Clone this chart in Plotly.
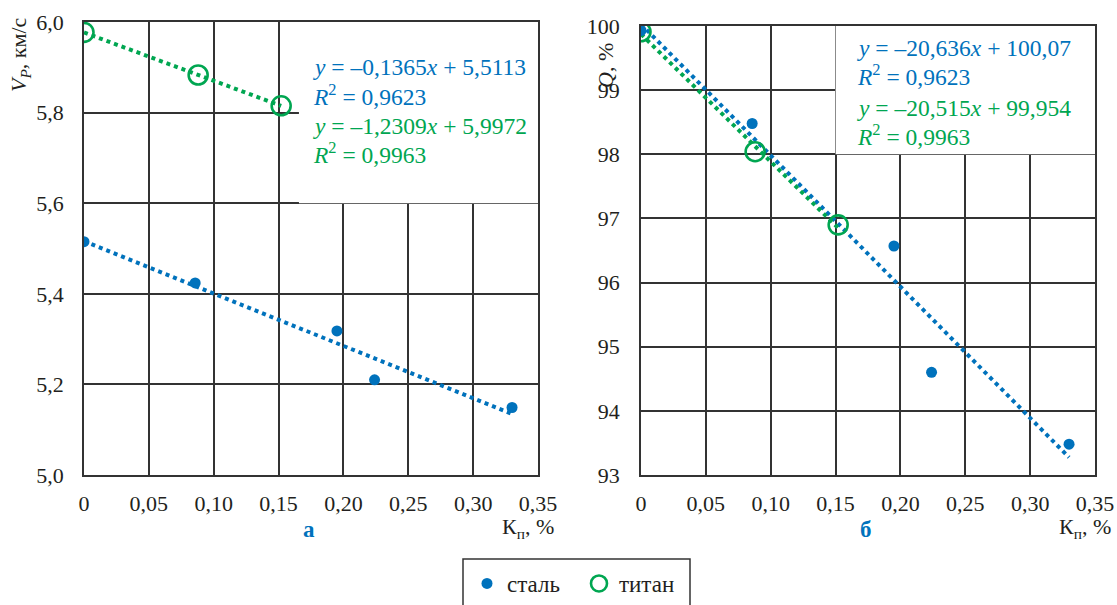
import numpy as np
import plotly.graph_objects as go

# ---------------- data ----------------
steel_kp = [0.0, 0.0857, 0.195, 0.224, 0.330]
steel_vp = [5.515, 5.424, 5.318, 5.210, 5.149]
steel_q = [99.93, 98.48, 96.57, 94.60, 93.48]

titan_kp = [0.0, 0.088, 0.152]
titan_vp = [5.977, 5.883, 5.815]
titan_q = [99.91, 98.04, 96.90]

x_tick_vals = [0.0, 0.05, 0.10, 0.15, 0.20, 0.25, 0.30, 0.35]
x_tick_text = ["0", "0,05", "0,10", "0,15", "0,20", "0,25", "0,30", "0,35"]
vp_tick_vals = [5.0, 5.2, 5.4, 5.6, 5.8, 6.0]
vp_tick_text = ["5,0", "5,2", "5,4", "5,6", "5,8", "6,0"]
q_tick_vals = [93, 94, 95, 96, 97, 98, 99, 100]
q_tick_text = ["93", "94", "95", "96", "97", "98", "99", "100"]

eq_vp = [
    "<i>y</i> = –0,1365<i>x</i> + 5,5113",
    "<i>R</i><sup>2</sup> = 0,9623",
    "<i>y</i> = –1,2309<i>x</i> + 5,9972",
    "<i>R</i><sup>2</sup> = 0,9963",
]
eq_q = [
    "<i>y</i> = –20,636<i>x</i> + 100,07",
    "<i>R</i><sup>2</sup> = 0,9623",
    "<i>y</i> = –20,515<i>x</i> + 99,954",
    "<i>R</i><sup>2</sup> = 0,9963",
]
series_names = ["сталь", "титан"]

# ---------------- style ----------------
BLUE = "#0072BC"
GREEN = "#00A651"
GRID = "#333333"
TXT = "#231f20"
FONT = "Liberation Serif"

W, H = 1117, 605


def px_x(p):
    return p / W


def px_y(p):
    return 1 - p / H


def trend(xs, ys):
    k, b = np.polyfit(xs, ys, 1)
    xx = np.array([min(xs), max(xs)])
    return xx, k * xx + b


fig = go.Figure()

# trendlines
for xs, ys, col, xa, ya in [
    (steel_kp, steel_vp, BLUE, "x", "y"),
    (titan_kp, titan_vp, GREEN, "x", "y"),
    (steel_kp, steel_q, BLUE, "x2", "y2"),
    (titan_kp, titan_q, GREEN, "x2", "y2"),
]:
    tx, ty = trend(xs, ys)
    fig.add_trace(go.Scatter(
        x=tx, y=ty, mode="lines", xaxis=xa, yaxis=ya, showlegend=False,
        line=dict(color=col, width=4, dash="4px,4px"), hoverinfo="skip"))

# markers
fig.add_trace(go.Scatter(
    x=steel_kp, y=steel_vp, mode="markers", name=series_names[0],
    marker=dict(color=BLUE, size=11), xaxis="x", yaxis="y", legendgroup="s"))
fig.add_trace(go.Scatter(
    x=titan_kp, y=titan_vp, mode="markers", name=series_names[1],
    marker=dict(symbol="circle-open", color=GREEN, size=19, line=dict(width=2.6)),
    xaxis="x", yaxis="y", legendgroup="t"))
fig.add_trace(go.Scatter(
    x=steel_kp, y=steel_q, mode="markers", name=series_names[0], showlegend=False,
    marker=dict(color=BLUE, size=11), xaxis="x2", yaxis="y2", legendgroup="s"))
fig.add_trace(go.Scatter(
    x=titan_kp, y=titan_q, mode="markers", name=series_names[1], showlegend=False,
    marker=dict(symbol="circle-open", color=GREEN, size=19, line=dict(width=2.6)),
    xaxis="x2", yaxis="y2", legendgroup="t"))

axis_common = dict(
    showgrid=True, gridcolor=GRID, gridwidth=1.5,
    showline=True, linecolor=GRID, linewidth=1.5, mirror=True,
    zeroline=False, ticks="", tickmode="array",
    tickfont=dict(family=FONT, size=22, color=TXT),
)

fig.update_layout(
    width=W, height=H,
    margin=dict(l=0, r=0, t=0, b=0, autoexpand=False),
    paper_bgcolor="white", plot_bgcolor="white",
    font=dict(family=FONT, size=22, color=TXT),
    xaxis=dict(domain=[px_x(84), px_x(538)], range=[0, 0.35], anchor="y",
               tickvals=x_tick_vals, ticktext=x_tick_text, ticklabelstandoff=8, **axis_common),
    yaxis=dict(domain=[px_y(475), px_y(22)], range=[5.0, 6.0], anchor="x",
               tickvals=vp_tick_vals, ticktext=vp_tick_text, ticklabelstandoff=14, **axis_common),
    xaxis2=dict(domain=[px_x(641), px_x(1095)], range=[0, 0.35], anchor="y2",
                tickvals=x_tick_vals, ticktext=x_tick_text, ticklabelstandoff=8, **axis_common),
    yaxis2=dict(domain=[px_y(475), px_y(26)], range=[93, 100], anchor="x2",
                tickvals=q_tick_vals, ticktext=q_tick_text, ticklabelstandoff=15, **axis_common),
    legend=dict(
        orientation="h", x=px_x(467), y=px_y(562), xanchor="left", yanchor="top",
        borderwidth=0, bgcolor="rgba(0,0,0,0)", entrywidth=67,
        font=dict(family=FONT, size=23, color=TXT),
    ),
    showlegend=True,
)

# white boxes behind equations (cover the grid lines)
fig.add_shape(type="rect", xref="x", yref="y", x0=0.1657, x1=0.35, y0=5.6, y1=6.0,
              fillcolor="white", line=dict(width=0), layer="between")
fig.add_shape(type="rect", xref="x2", yref="y2", x0=0.15, x1=0.35, y0=98, y1=100,
              fillcolor="white", line=dict(width=0), layer="between")
# legend frame (bottom edge is cut off by the picture edge)
fig.add_shape(type="rect", xref="paper", yref="paper", x0=px_x(463), x1=px_x(690),
              y0=-0.05, y1=px_y(559), line=dict(color=GRID, width=1.5),
              fillcolor="rgba(0,0,0,0)", layer="above")

# equations
for txt, yc, col in zip(eq_vp, [67, 95, 126, 153], [BLUE, BLUE, GREEN, GREEN]):
    fig.add_annotation(text=txt, xref="paper", yref="paper", x=px_x(311), y=px_y(yc),
                       xanchor="left", yanchor="middle", showarrow=False,
                       font=dict(family=FONT, size=23.5, color=col))
for txt, yc, col in zip(eq_q, [48, 75, 108, 135], [BLUE, BLUE, GREEN, GREEN]):
    fig.add_annotation(text=txt, xref="paper", yref="paper", x=px_x(855), y=px_y(yc),
                       xanchor="left", yanchor="middle", showarrow=False,
                       font=dict(family=FONT, size=23.5, color=col))

# axis titles
fig.add_annotation(text="<i>V</i><sub><i>P</i></sub>, км/с", xref="paper", yref="paper",
                   x=px_x(20), y=px_y(55), textangle=-90, showarrow=False,
                   xanchor="center", yanchor="middle", font=dict(family=FONT, size=22, color=TXT))
fig.add_annotation(text="<i>Q</i>, %", xref="paper", yref="paper",
                   x=px_x(606), y=px_y(65), textangle=-90, showarrow=False,
                   xanchor="center", yanchor="middle", font=dict(family=FONT, size=22, color=TXT))
for xr in [556, 1113]:
    fig.add_annotation(text="К<sub>п</sub>, %", xref="paper", yref="paper",
                       x=px_x(xr), y=px_y(528), xanchor="right", yanchor="middle",
                       showarrow=False, font=dict(family=FONT, size=22, color=TXT))
for lbl, xc in [("а", 309), ("б", 866)]:
    fig.add_annotation(text="<b>" + lbl + "</b>", xref="paper", yref="paper",
                       x=px_x(xc), y=px_y(529), xanchor="center", yanchor="middle",
                       showarrow=False, font=dict(family=FONT, size=23, color=BLUE))

fig.write_html("out.html")
